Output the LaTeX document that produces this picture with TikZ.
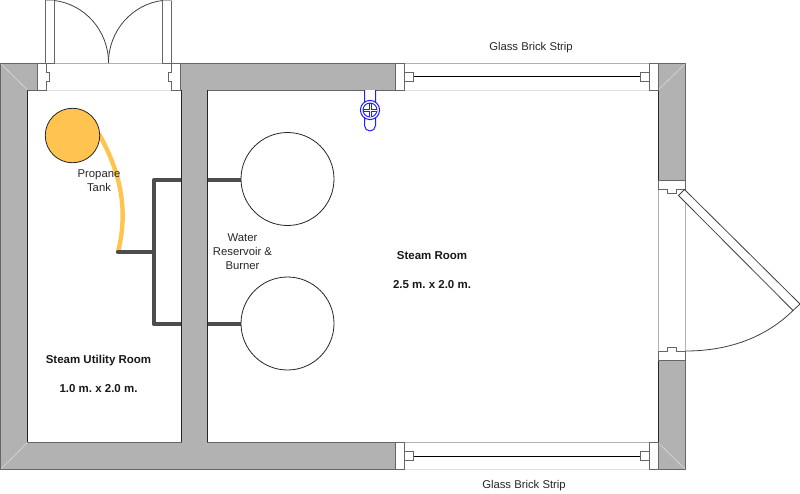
\documentclass[tikz,border=0pt]{standalone}
\usepackage{fontspec}
\setmainfont{Liberation Sans}
\definecolor{wallgray}{HTML}{B2B2B2}
\definecolor{walledge}{HTML}{666666}
\definecolor{pipegray}{HTML}{4D4D4D}
\definecolor{tankorange}{HTML}{FFC44F}
\definecolor{valveblue}{HTML}{1F1FFF}
\tikzset{
  wall/.style={fill=wallgray,draw=walledge,line width=1pt,line join=miter},
  darkedge/.style={draw=black!85,line width=0.8pt},
  jamb/.style={fill=white,draw=walledge,line width=0.9pt},
  leaf/.style={draw=black!75,line width=0.8pt},
  thin gray/.style={draw=black!30,line width=0.9pt},
  pale/.style={draw=black!12,line width=0.9pt},
  seam/.style={draw=black!15,line width=0.6pt},
  pipe/.style={draw=pipegray,line width=4.2pt,line cap=round,line join=round},
  gas/.style={draw=tankorange,line width=4.4pt},
  vessel/.style={circle,draw=black!85,fill=white,line width=0.8pt,minimum size=93pt,inner sep=0pt},
  tankstyle/.style={circle,draw=black!85,fill=tankorange,line width=0.8pt,minimum size=54.5pt,inner sep=0pt},
  lab/.style={font=\fontsize{11.3}{14}\selectfont,text=black!85,align=center,inner sep=0pt},
  blab/.style={font=\fontsize{11.5}{14}\selectfont\bfseries,text=black!90,align=center,inner sep=0pt},
  valve/.style={draw=valveblue,line width=1pt}
}
\begin{document}
\frenchspacing
\begin{tikzpicture}[x=1pt,y=-1pt]
\useasboundingbox (0,0) rectangle (800,493);
\coordinate (gasend) at (118,252);
\coordinate (junc) at (153.7,252);
\coordinate (jt) at (153.7,180.3);
\coordinate (jb) at (153.7,324);
% walls
\path[wall] (0.7,63.5)--(37,63.5)--(37,90)--(27.7,90)--(27.7,442.3)--(181,442.3)--(181,90)--(180.5,90)--(180.5,63.5)--(395,63.5)--(395,90)--(207,90)--(207,442.3)--(395,442.3)--(395,469.5)--(0.7,469.5)--cycle;
\path[wall] (658,63.5)--(685,63.5)--(685,180)--(658,180)--cycle;
\path[wall] (658,360)--(685,360)--(685,469.5)--(658,469.5)--cycle;
\draw[darkedge] (27.7,90)--(27.7,442) (181,90)--(181,442) (207,90)--(207,442);
\draw[darkedge] (658,90)--(658,180) (658,360)--(658,442);
\draw[seam] (1,64)--(27.5,90);
\draw[seam] (1,469)--(27.5,442.5);
\draw[seam] (685,64)--(658,90);
\draw[seam] (658,442.5)--(685,469);
% pipework
\draw[pipe,line cap=butt] (181,180.3)--(jt)--(jb)--(181,324);
\draw[pipe,line cap=butt] (207.5,180.3)--(241,180.3);
\draw[pipe,line cap=butt] (207.5,324)--(241,324);
% vessels
\node[vessel] (res1) at (287.5,179) {};
\node[vessel] (res2) at (287.5,323.5) {};
% propane
\draw[gas] (99,134) .. controls (122,175) and (128,212) .. (gasend);
\draw[pipe] (gasend)--(junc);
\node[tankstyle] (tank) at (72.5,135.5) {};
% top door
\draw[thin gray] (54,63)--(162.5,63);
\draw[pale] (46,90)--(171,90);
\draw[jamb] (37,63.5)--(46,63.5)--(46,72)--(49.5,72)--(49.5,81)--(46,81)--(46,90)--(37,90)--cycle;
\draw[jamb] (180.5,63.5)--(171.5,63.5)--(171.5,72)--(168,72)--(168,81)--(171.5,81)--(171.5,90)--(180.5,90)--cycle;
\draw[jamb] (45.5,0)--(45.5,63)--(54.3,63)--(54.3,0);
\draw[jamb] (162.5,0)--(162.5,63)--(171.5,63)--(171.5,0);
\draw[thin gray] (45.5,0.3)--(54.3,0.3) (162.5,0.3)--(171.5,0.3);
\draw[leaf] (54.3,0.5) .. controls (84,4) and (108.5,30) .. (108.5,63);
\draw[leaf] (162.5,0.5) .. controls (133,4) and (108.5,30) .. (108.5,63);
% top window
\draw[thin gray] (404,63)--(649,63);
\draw[pale] (404,90)--(649,90);
\draw[black,line width=0.9pt] (413,76.4)--(640,76.4);
\draw[jamb] (395,63.5) rectangle (404,90);
\draw[jamb] (404,72) rectangle (413,81);
\draw[jamb] (649,63.5) rectangle (658,90);
\draw[jamb] (640,72) rectangle (649,81);
% bottom window
\draw[thin gray] (404,442.5)--(649,442.5);
\draw[pale] (404,469.5)--(649,469.5);
\draw[black,line width=0.9pt] (413,456.4)--(640,456.4);
\draw[jamb] (395,442.5) rectangle (404,469.5);
\draw[jamb] (404,451.5) rectangle (413,460.5);
\draw[jamb] (649,442.5) rectangle (658,469.5);
\draw[jamb] (640,451.5) rectangle (649,460.5);
% right door
\draw[thin gray] (658,189)--(658,351) (685.5,189)--(685.5,351);
\draw[jamb] (658,180)--(685.5,180)--(685.5,189.3)--(676,189.3)--(676,193)--(667,193)--(667,189.3)--(658,189.3)--cycle;
\draw[jamb] (658,360)--(685.5,360)--(685.5,351)--(676,351)--(676,347.5)--(667,347.5)--(667,351)--(658,351)--cycle;
\draw[leaf,fill=white] (678.5,195.5)--(684.5,189.5)--(800,304)--(793,310.5)--cycle;
\draw[leaf] (685.5,351) .. controls (726,351) and (764,339) .. (793,310.5);
% valve
\draw[valve,fill=white] (364.5,90)--(364.5,125.5) arc[start angle=180,end angle=0,radius=5.5] --(375.5,90);
\draw[valve,fill=white] (370,110) circle[radius=9.6];
\draw[valve,line width=0.9pt] (370,110) circle[radius=7];
\draw[valve,line width=3pt] (363,110)--(377,110) (370,103)--(370,117);
\draw[white,line width=0.7pt] (363.5,110)--(376.5,110) (370,103.5)--(370,116.5);
% labels
\node[lab] (l1) at (531,47.5) {Glass Brick Strip};
\node[lab] (l2) at (524,486) {Glass Brick Strip};
\node[lab] (l3) at (99,180.5) {Propane\\Tank};
\node[lab] (l4) at (242.5,252) {Water\\Reservoir \&\\Burner};
\node[blab] (l5) at (432,256) {Steam Room};
\node[blab] (l6) at (432,284.5) {2.5 m. x 2.0 m.};
\node[blab] (l7) at (98.5,360.5) {Steam Utility Room};
\node[blab] (l8) at (98.5,389) {1.0 m. x 2.0 m.};
\end{tikzpicture}
\end{document}
